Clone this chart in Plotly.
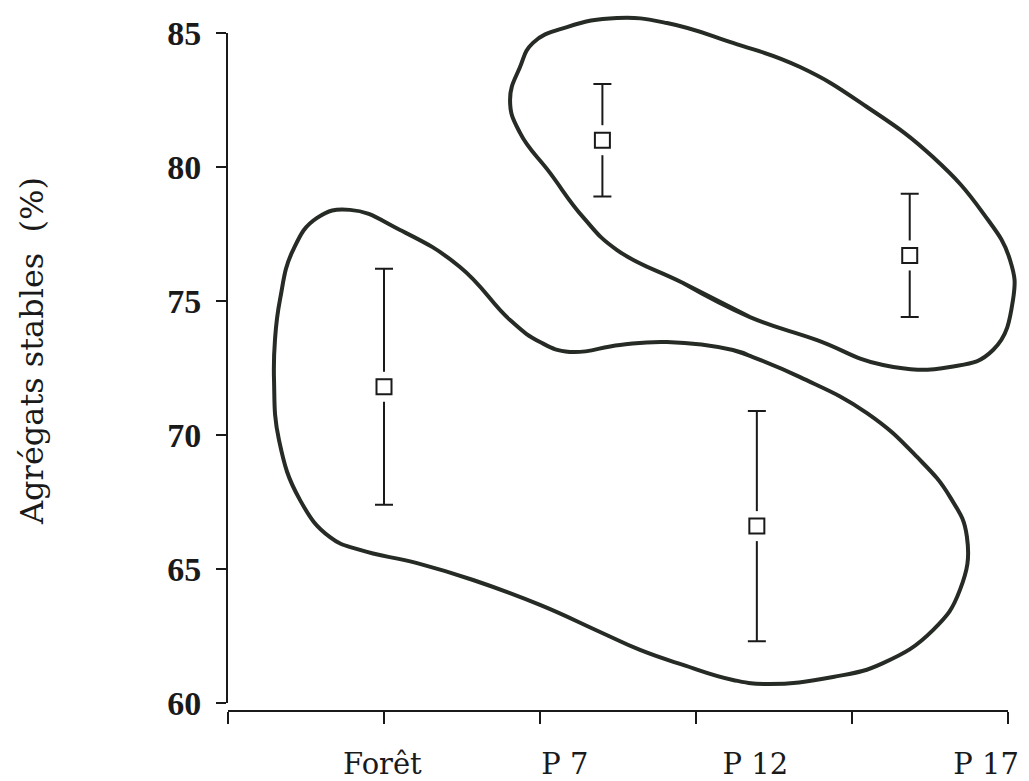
import plotly.graph_objects as go

# ---------------- data ----------------
categories = ["Forêt", "P 7", "P 12", "P 17"]
label_pos = [0.99, 2.16, 3.38, 4.86]          # where the category labels sit on the x scale
point_x = [1.0, 2.40, 3.39, 4.37]             # x position of each mean
values = [71.8, 81.0, 66.6, 76.7]             # % stable aggregates
errors = [4.4, 2.1, 4.3, 2.3]

x_ticks = [0, 1, 2, 3, 4, 5]
y_ticks = [60, 65, 70, 75, 80, 85]

# hand-drawn groupings (outline in data units)
lower_blob_x = [3.346, 3.237, 2.814, 2.513, 2.192, 2.0, 1.808, 1.487, 1.103, 0.782, 0.571,
                0.417, 0.333, 0.301, 0.295, 0.327, 0.462, 0.654, 0.846, 1.212, 1.571, 2.0,
                2.385, 2.641, 2.917, 3.237, 3.455, 3.878, 4.199, 4.519, 4.692, 4.737, 4.628,
                4.417, 4.096, 3.667, 3.346, 3.237]
lower_blob_y = [72.95, 73.17, 73.47, 73.36, 73.10, 73.47, 74.29, 76.27, 77.65, 78.40, 78.10,
                76.90, 75.04, 73.54, 72.05, 69.81, 67.57, 66.19, 65.71, 65.22, 64.59, 63.66,
                62.65, 61.98, 61.42, 60.86, 60.71, 60.97, 61.49, 62.72, 64.22, 66.19, 67.69,
                69.18, 70.82, 72.16, 72.95, 73.17]

upper_blob_x = [3.346, 2.917, 2.494, 2.276, 2.064, 1.872, 1.808, 1.872, 1.955, 2.173, 2.494,
                2.814, 3.237, 3.667, 4.096, 4.519, 4.840, 5.013, 5.032, 4.904, 4.628, 4.199,
                3.776, 3.346, 2.917]
upper_blob_y = [74.40, 75.67, 76.90, 78.13, 79.78, 81.27, 82.50, 83.73, 84.63, 85.22, 85.56,
                85.37, 84.63, 83.73, 82.24, 80.37, 78.28, 76.53, 75.04, 73.17, 72.54, 72.61,
                73.54, 74.40, 75.67]

# ---------------- layout geometry ----------------
PAGE_OFFSET = 8                     # default body margin of the html page
W, H = 1029 - PAGE_OFFSET, 781 - PAGE_OFFSET
ML, MT, MR = 228 - PAGE_OFFSET, 10 - PAGE_OFFSET, 10
plot_w = W - ML - MR
plot_h = 700
MB = H - MT - plot_h
px_per_x = 156.0
px_per_y = 26.8
y_gap = 7  # x axis sits a little below the 60 tick

x_lo, x_hi = 0.0, plot_w / px_per_x
y_lo = y_ticks[0] - y_gap / px_per_y
y_hi = y_lo + plot_h / px_per_y

ink = "#1a1a1a"
blob_col = "#262b26"
clear = "rgba(0,0,0,0)"

fig = go.Figure()

for bx, by in [(lower_blob_x, lower_blob_y), (upper_blob_x, upper_blob_y)]:
    fig.add_trace(go.Scatter(x=bx, y=by, mode="lines",
                             line=dict(color=blob_col, width=4, shape="spline", smoothing=1.3),
                             hoverinfo="skip", showlegend=False))

# error bars
fig.add_trace(go.Scatter(
    x=point_x, y=values, mode="markers",
    marker=dict(size=1, color=clear),
    error_y=dict(type="data", array=errors, visible=True, color=ink, thickness=2, width=9),
    showlegend=False, hoverinfo="skip"))
# white halo leaving a gap around each square
fig.add_trace(go.Scatter(
    x=point_x, y=values, mode="markers",
    marker=dict(symbol="square", size=30, color="white", line=dict(width=0)),
    showlegend=False, hoverinfo="skip"))
# open squares
fig.add_trace(go.Scatter(
    x=point_x, y=values, mode="markers",
    marker=dict(symbol="square-open", size=15, color=ink, line=dict(width=2, color=ink)),
    showlegend=False))

# invisible helpers so the drawn axes exist
fig.add_trace(go.Scatter(x=[0], y=[60], xaxis="x2", yaxis="y", mode="markers",
                         marker=dict(opacity=0), showlegend=False, hoverinfo="skip"))
fig.add_trace(go.Scatter(x=[0], y=[60], xaxis="x", yaxis="y2", mode="markers",
                         marker=dict(opacity=0), showlegend=False, hoverinfo="skip"))

x_end = x_ticks[-1]
fig.update_layout(
    width=W, height=H,
    margin=dict(l=ML, r=MR, t=MT, b=MB, autoexpand=False),
    paper_bgcolor="white", plot_bgcolor=clear,
    showlegend=False,
    xaxis=dict(range=[x_lo, x_hi], domain=[0, 1], showline=False, ticks="",
               tickvals=label_pos, ticktext=categories, ticklabelstandoff=34,
               ticklabeloverflow="allow",
               tickfont=dict(family="DejaVu Serif", size=29, color=ink),
               showgrid=False, zeroline=False, automargin=False, fixedrange=True),
    yaxis=dict(range=[y_lo, y_hi], domain=[0, 1], showline=False, ticks="",
               showticklabels=False, showgrid=False, zeroline=False,
               automargin=False, fixedrange=True),
    xaxis2=dict(range=[x_ticks[0], x_end], domain=[0, (x_end - x_lo) / (x_hi - x_lo)],
                anchor="y", showline=True, linecolor=ink, linewidth=2,
                ticks="outside", ticklen=12, tickwidth=2, tickcolor=ink,
                tickvals=x_ticks, showticklabels=False, showgrid=False, zeroline=False,
                automargin=False, fixedrange=True),
    yaxis2=dict(range=[y_ticks[0], y_ticks[-1]],
                domain=[(y_ticks[0] - y_lo) / (y_hi - y_lo), (y_ticks[-1] - y_lo) / (y_hi - y_lo)],
                anchor="x", showline=True, linecolor=ink, linewidth=2,
                ticks="outside", ticklen=10, tickwidth=2, tickcolor=ink,
                tickvals=y_ticks, ticklabelstandoff=8,
                tickfont=dict(family="Liberation Serif", size=34, color=ink, weight="bold"),
                showgrid=False, zeroline=False, automargin=False, fixedrange=True),
    annotations=[dict(text="Agrégats stables  (%)", xref="paper", x=0, xanchor="center",
                      xshift=-196, yref="y2 domain", y=0.5, yshift=17, yanchor="middle",
                      textangle=-90, showarrow=False,
                      font=dict(family="DejaVu Serif", size=32, color=ink))],
)

fig.write_html("out.html")
